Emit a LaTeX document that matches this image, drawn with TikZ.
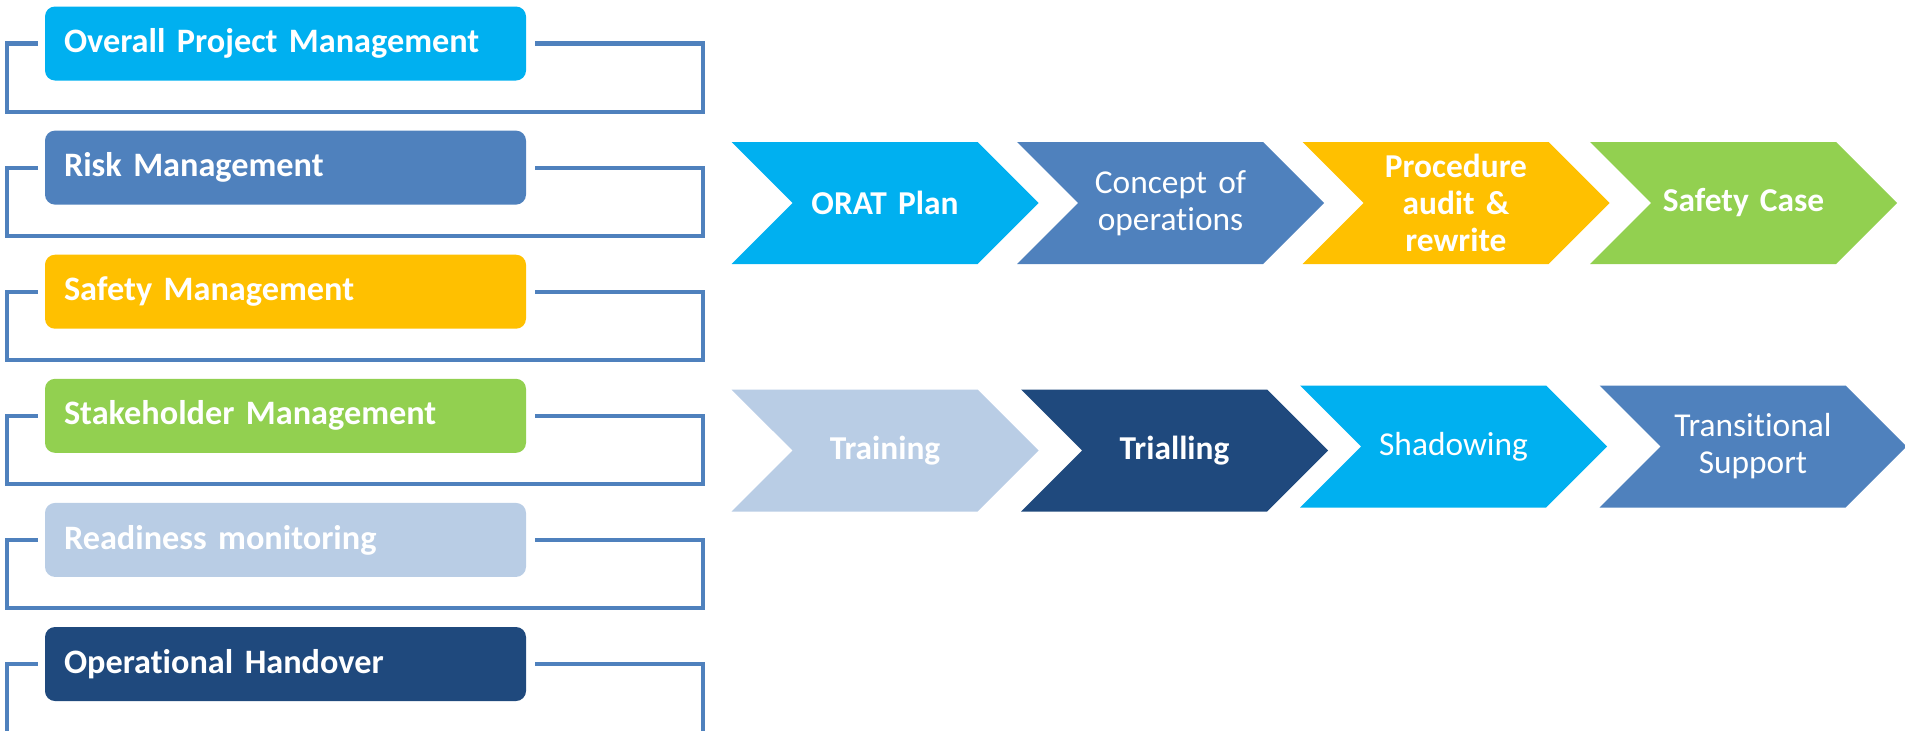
\documentclass[tikz,border=0pt]{standalone}
\usepackage{fontspec}
\setmainfont{Carlito}[Ligatures=NoCommon, WordSpace=0.85]
\usetikzlibrary{positioning,shapes.symbols}

\definecolor{oratcyan}{HTML}{00B0F0}
\definecolor{oratsteel}{HTML}{4F81BD}
\definecolor{oratamber}{HTML}{FFC000}
\definecolor{oratlime}{HTML}{92D050}
\definecolor{oratpale}{HTML}{B9CDE5}
\definecolor{oratnavy}{HTML}{1F497D}

\begin{document}
\begin{tikzpicture}[
            mgmt/.style={rectangle, rounded corners=0.2cm, minimum height=1.48cm, minimum width=9.62cm, text width=8.86cm, inner xsep=0.38cm, align=left, text=white, font=\fontsize{19.5}{23}\selectfont\bfseries},
            bracket/.style={draw=oratsteel, line width=2.3pt},
            phase/.style={signal, signal from=west, signal to=east, signal pointer angle=90, minimum height=2.44cm, minimum width=6.14cm, text width=3.7cm, inner sep=0pt, align=center, text=white, font=\fontsize{19}{21}\selectfont},
            node distance=0.988cm
        ]

        \useasboundingbox (0,0) rectangle (38.1,-14.6);

        \coordinate (lft) at (0.14,0);
        \coordinate (rgt) at (14.06,0);

        % management strands
        \node[mgmt, fill=oratcyan] (overall) at (5.71,-0.87) {Overall Project Management};
        \node[mgmt, fill=oratsteel, below=of overall] (risk) {Risk Management};
        \node[mgmt, fill=oratamber, below=of risk] (safety) {Safety Management};
        \node[mgmt, fill=oratlime, below=of safety] (stake) {Stakeholder Management};
        \node[mgmt, fill=oratpale, below=of stake] (ready) {Readiness monitoring};
        \node[mgmt, fill=oratnavy, below=of ready] (handover) {Operational Handover};

        \draw[bracket] ([xshift=-0.14cm]overall.west) -- (lft |- overall.west) -- ++(0,-1.37) -| (rgt |- overall.east) -- ([xshift=0.18cm]overall.east);
        \draw[bracket] ([xshift=-0.14cm]risk.west) -- (lft |- risk.west) -- ++(0,-1.37) -| (rgt |- risk.east) -- ([xshift=0.18cm]risk.east);
        \draw[bracket] ([xshift=-0.14cm]safety.west) -- (lft |- safety.west) -- ++(0,-1.37) -| (rgt |- safety.east) -- ([xshift=0.18cm]safety.east);
        \draw[bracket] ([xshift=-0.14cm]stake.west) -- (lft |- stake.west) -- ++(0,-1.37) -| (rgt |- stake.east) -- ([xshift=0.18cm]stake.east);
        \draw[bracket] ([xshift=-0.14cm]ready.west) -- (lft |- ready.west) -- ++(0,-1.37) -| (rgt |- ready.east) -- ([xshift=0.18cm]ready.east);
        \draw[bracket] ([xshift=-0.14cm]handover.west) -- (lft |- handover.west) -- ++(0,-1.37) -| (rgt |- handover.east) -- ([xshift=0.18cm]handover.east);

        % phases, first row
        \node[phase, fill=oratcyan, font=\fontsize{19}{21}\selectfont\bfseries] (plan) at (17.7,-4.06) {ORAT Plan};
        \node[phase, fill=oratsteel] (conops) at (23.41,-4.06) {Concept of\\operations};
        \node[phase, fill=oratamber, font=\fontsize{19}{21}\selectfont\bfseries] (audit) at (29.12,-4.06) {Procedure\\audit \&\\rewrite};
        \node[phase, fill=oratlime, font=\fontsize{19}{21}\selectfont\bfseries] (case) at (34.87,-4.06) {Safety Case};

        % phases, second row
        \node[phase, fill=oratpale, font=\fontsize{19}{21}\selectfont\bfseries] (training) at (17.7,-9.01) {Training};
        \node[phase, fill=oratnavy, font=\fontsize{19}{21}\selectfont\bfseries] (trialling) at (23.49,-9.01) {Trialling};
        \node[phase, fill=oratcyan] (shadowing) at (29.07,-8.93) {Shadowing};
        \node[phase, fill=oratsteel] (support) at (35.06,-8.93) {Transitional\\Support};

    \end{tikzpicture}
\end{document}
